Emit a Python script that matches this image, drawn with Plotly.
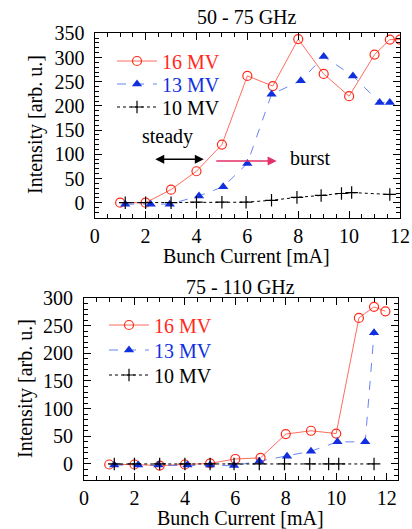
import plotly.graph_objects as go

# ---- data: 50 - 75 GHz ----
a_x16 = [1.0, 2.0, 3.0, 4.0, 5.0, 6.0, 7.0, 8.0, 9.0, 10.0, 11.0, 11.6, 12.0]
a_y16 = [0, 0, 27, 65, 120, 262, 241, 338, 266, 220, 306, 337, 337]
a_x13 = [1.2, 2.2, 2.95, 4.1, 5.05, 6.0, 6.95, 8.1, 9.0, 10.15, 11.2, 11.6]
a_y13 = [-3, -3, -3, 14, 33, 81, 224, 252, 302, 262, 207, 207]
a_x10 = [1.2, 2.0, 3.0, 4.0, 5.0, 5.95, 6.95, 7.95, 8.9, 9.7, 10.1, 11.6]
a_y10 = [0, 0, 0, 1, 1, 1, 5, 11, 15, 19, 21, 17]

# ---- data: 75 - 110 GHz ----
b_x16 = [1.0, 2.0, 3.0, 4.0, 5.0, 6.0, 7.0, 8.0, 9.0, 10.0, 10.9, 11.5, 11.95]
b_y16 = [-1, -1, -3, -1, 1, 9, 11, 54, 60, 55, 264, 284, 276]
b_x13 = [1.2, 2.15, 2.95, 4.1, 5.0, 5.95, 6.95, 8.05, 9.0, 10.05, 11.15, 11.5]
b_y13 = [-2, -2, -2, -2, -2, -3, 5, 14, 23, 40, 40, 237]
b_x10 = [1.2, 2.0, 3.0, 4.0, 5.0, 5.95, 6.95, 7.95, 8.95, 9.7, 10.1, 11.5]
b_y10 = [0, 0, 0, 0, 0, 0, 0, 0, 0, 0, 0, 0]

names = ["16 MV", "13 MV", "10 MV"]
titles = ["50 - 75 GHz", "75 - 110 GHz"]
xtitle = "Bunch Current [mA]"
ytitle = "Intensity [arb. u.]"

RED = "#ff2a1a"
BLUE = "#1030e0"
FONT = "Liberation Serif"
W, H = 412, 529


def fx(px):
    return px / W


def fy(py):
    return 1 - py / H


fig = go.Figure()


def add_set(x16, y16, x13, y13, x10, y10, xa, ya, legs):
    fig.add_trace(go.Scatter(
        x=x16, y=y16, mode="lines+markers", xaxis=xa, yaxis=ya, legend=legs[0],
        name=f"<span style='color:{RED}'>{names[0]}</span>",
        line=dict(color="rgba(255,60,40,0.75)", width=1),
        marker=dict(symbol="circle-open", size=9, color=RED, line=dict(width=1.2, color=RED))))
    fig.add_trace(go.Scatter(
        x=x13, y=y13, mode="lines+markers", xaxis=xa, yaxis=ya, legend=legs[1],
        name=f"<span style='color:{BLUE}'>{names[1]}</span>",
        line=dict(color="rgba(40,80,240,0.7)", width=1, dash="dash"),
        marker=dict(symbol="triangle-up", size=9, color=BLUE)))
    fig.add_trace(go.Scatter(
        x=x10, y=y10, mode="lines+markers", xaxis=xa, yaxis=ya, legend=legs[2],
        name=names[2],
        line=dict(color="black", width=1, dash="dot"),
        marker=dict(symbol="cross-thin-open", size=9, color="black", line=dict(width=1.2, color="black"))))


add_set(a_x16, a_y16, a_x13, a_y13, a_x10, a_y10, "x", "y", ["legend", "legend2", "legend3"])
add_set(b_x16, b_y16, b_x13, b_y13, b_x10, b_y10, "x2", "y2", ["legend4", "legend5", "legend6"])

axcommon = dict(showline=True, linecolor="black", linewidth=1.2, mirror="allticks",
                ticks="inside", ticklen=7, tickwidth=1, tickcolor="black",
                showgrid=False, zeroline=False, automargin=False,
                tickfont=dict(family=FONT, size=20, color="black"))


def legend_at(px, py):
    return dict(x=fx(px), y=fy(py), xanchor="left", yanchor="middle",
                bgcolor="rgba(0,0,0,0)", font=dict(family=FONT, size=20),
                itemwidth=40, borderwidth=0)


fig.update_layout(
    template="none",
    width=W, height=H, margin=dict(l=0, r=0, t=0, b=0, autoexpand=False),
    paper_bgcolor="white", plot_bgcolor="white",
    font=dict(family=FONT, size=20, color="black"),
    xaxis=dict(domain=[fx(94.7), fx(400)], anchor="y", range=[0, 12], dtick=2,
               minor=dict(dtick=0.5, ticks="inside", ticklen=4, tickcolor="black"), **axcommon),
    yaxis=dict(domain=[fy(217.7), fy(33.3)], anchor="x", range=[-31, 350], tick0=0, dtick=50,
               ticklabelstandoff=5,
               minor=dict(dtick=10, ticks="inside", ticklen=4, tickcolor="black"), **axcommon),
    xaxis2=dict(domain=[fx(84), fx(398)], anchor="y2", range=[0, 12.45], dtick=2,
                minor=dict(dtick=0.5, ticks="inside", ticklen=4, tickcolor="black"), **axcommon),
    yaxis2=dict(domain=[fy(480), fy(298)], anchor="x2", range=[-29, 300], tick0=0, dtick=50,
                ticklabelstandoff=6,
                minor=dict(dtick=10, ticks="inside", ticklen=4, tickcolor="black"), **axcommon),
    legend=legend_at(112, 61),
    legend2=legend_at(112, 84),
    legend3=legend_at(112, 107),
    legend4=legend_at(104, 325),
    legend5=legend_at(104, 350),
    legend6=legend_at(104, 375),
    showlegend=True,
)

ann = []


def txt(text, px, py, angle=0):
    return dict(text=text, x=fx(px), y=fy(py), xref="paper", yref="paper",
                xanchor="center", yanchor="middle", showarrow=False, textangle=angle,
                font=dict(size=20))


ann.append(txt(titles[0], 247, 17))
ann.append(txt(titles[1], 241, 287))
ann.append(txt(xtitle, 247, 256))
ann.append(txt(xtitle, 241, 518))
ann.append(txt(ytitle, 35, 125, -90))
ann.append(txt(ytitle, 25, 389, -90))
# steady / burst
ann.append(dict(text="steady", x=2.87, y=136, xref="x", yref="y", xanchor="center", yanchor="middle",
                showarrow=False, font=dict(size=20)))
ann.append(dict(text="burst", x=8.46, y=92, xref="x", yref="y", xanchor="center", yanchor="middle",
                showarrow=False, font=dict(size=20)))
ann.append(dict(text="", x=4.29, y=90, ax=2.32, ay=90, xref="x", yref="y", axref="x", ayref="y",
                showarrow=True, arrowhead=2, startarrowhead=2, arrowside="end+start",
                arrowwidth=1.5, arrowsize=1.2, arrowcolor="black"))
ann.append(dict(text="", x=7.15, y=86, ax=4.72, ay=86, xref="x", yref="y", axref="x", ayref="y",
                showarrow=True, arrowhead=2, arrowwidth=1.5, arrowsize=1.2, arrowcolor="#e33068"))
fig.update_layout(annotations=ann)

fig.write_html("out.html", config={"displayModeBar": False},
               post_script="document.body.style.margin='0';document.body.style.overflow='hidden';")
